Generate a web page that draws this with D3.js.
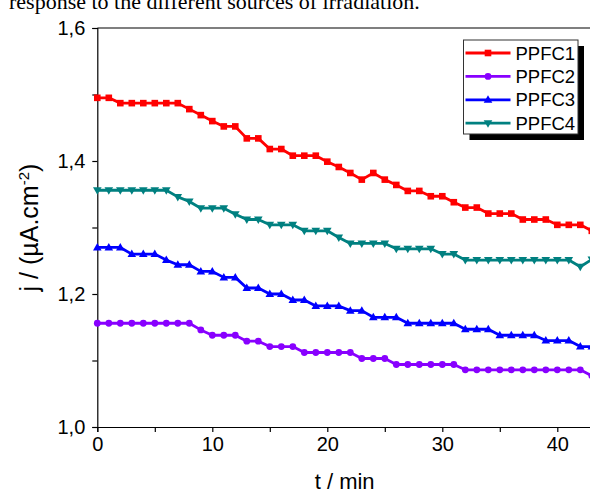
<!DOCTYPE html>
<html>
<head>
<meta charset="utf-8">
<script src="https://cdn.jsdelivr.net/npm/d3@7"></script>
<style>
  html, body { margin: 0; padding: 0; background: #fff; }
  svg { display: block; }
  text { font-family: "Liberation Sans", Arial, sans-serif; fill: #000; }
</style>
</head>
<body>
<script>
// ---- data ----
const times = d3.range(0, 44); // 0..43 min
const seriesNames = ["PPFC1", "PPFC2", "PPFC3", "PPFC4"];
const ppfc1 = [1.495,1.495,1.487,1.487,1.487,1.487,1.487,1.487,1.478,1.469,1.460,1.452,1.452,1.434,1.434,1.418,1.418,1.408,1.408,1.408,1.399,1.391,1.382,1.372,1.382,1.372,1.364,1.355,1.355,1.347,1.347,1.338,1.330,1.330,1.321,1.321,1.321,1.312,1.312,1.312,1.304,1.304,1.304,1.295];
const ppfc2 = [1.156,1.156,1.156,1.156,1.156,1.156,1.156,1.156,1.156,1.146,1.138,1.138,1.138,1.129,1.129,1.121,1.121,1.121,1.112,1.112,1.112,1.112,1.112,1.103,1.103,1.103,1.094,1.094,1.094,1.094,1.094,1.094,1.086,1.086,1.086,1.086,1.086,1.086,1.086,1.086,1.086,1.086,1.086,1.077];
const ppfc3 = [1.270,1.270,1.270,1.260,1.260,1.260,1.251,1.244,1.244,1.234,1.234,1.225,1.225,1.209,1.209,1.200,1.200,1.191,1.191,1.182,1.182,1.182,1.175,1.175,1.165,1.165,1.165,1.156,1.156,1.156,1.156,1.156,1.147,1.147,1.147,1.138,1.138,1.138,1.138,1.130,1.130,1.130,1.121,1.121];
const ppfc4 = [1.356,1.356,1.356,1.356,1.356,1.356,1.356,1.346,1.339,1.329,1.329,1.329,1.320,1.312,1.312,1.304,1.304,1.304,1.295,1.295,1.295,1.285,1.276,1.276,1.276,1.276,1.268,1.268,1.268,1.268,1.260,1.260,1.251,1.251,1.251,1.251,1.251,1.251,1.251,1.251,1.251,1.251,1.241,1.252];
const seriesValues = [ppfc1, ppfc2, ppfc3, ppfc4];
const seriesColors = ["#ff0000", "#8800ff", "#0000ff", "#008080"];
const seriesMarkers = ["square", "circle", "triangleUp", "triangleDown"];
const xMajorTicks = [0, 10, 20, 30, 40];
const xMinorTicks = [5, 15, 25, 35];
const yMajorTicks = [1.0, 1.2, 1.4, 1.6];
const yMinorTicks = [1.1, 1.3, 1.5];
const xTitle = "t / min";
const captionText = "response to the different sources of irradiation.";

// ---- layout ----
const W = 590, H = 496;
const FONT = "'Liberation Sans', Arial, sans-serif";
const svg = d3.select("body").append("svg").attr("width", W).attr("height", H);

const x = d3.scaleLinear().domain([0, 43]).range([97.3, 591.8]);
const y = d3.scaleLinear().domain([1.0, 1.6]).range([427, 28]);

// caption (cut off at top, as in the source page)
svg.append("text")
  .attr("x", 9).attr("y", 9)
  .style("font-family", "'Liberation Serif', 'Times New Roman', serif")
  .style("font-size", "22px")
  .text(captionText);

// top frame line
svg.append("line")
  .attr("x1", x(0)).attr("x2", W)
  .attr("y1", y(1.6)).attr("y2", y(1.6))
  .attr("stroke", "#000").attr("stroke-width", 1.2);

// axes
const fmt = d => d3.format(".1f")(d).replace(".", ",");
svg.append("g").attr("transform", `translate(${x(0)},0)`)
  .call(d3.axisLeft(y).tickValues(yMajorTicks).tickFormat(fmt).tickSize(5).tickPadding(7));
svg.append("g").attr("transform", `translate(${x(0)},0)`)
  .call(d3.axisLeft(y).tickValues(yMinorTicks).tickFormat("").tickSize(5))
  .select(".domain").remove();
svg.append("g").attr("transform", `translate(0,${y(1.0)})`)
  .call(d3.axisBottom(x).tickValues(xMajorTicks).tickFormat(d3.format("d")).tickSize(5).tickPadding(5));
svg.append("g").attr("transform", `translate(0,${y(1.0)})`)
  .call(d3.axisBottom(x).tickValues(xMinorTicks).tickFormat("").tickSize(5))
  .select(".domain").remove();

svg.selectAll(".domain").attr("stroke", "#000").attr("stroke-width", 1.2);
svg.selectAll(".tick line").attr("stroke", "#000").attr("stroke-width", 1.2);
svg.selectAll(".tick text").style("font-size", "20px").style("font-family", FONT).attr("fill", "#000");

// axis titles
svg.append("text")
  .attr("x", (x(0) + W) / 2 + 1).attr("y", 489)
  .attr("text-anchor", "middle")
  .style("font-family", FONT)
  .style("font-size", "22px")
  .text(xTitle);

const yt = svg.append("text")
  .attr("transform", `translate(38,${(y(1.0) + y(1.6)) / 2}) rotate(-90)`)
  .attr("text-anchor", "middle")
  .style("font-family", FONT)
  .style("font-size", "25px");
yt.append("tspan").text("j / (\u00b5A.cm");
yt.append("tspan").attr("dy", -9).style("font-size", "15px").text("-2");
yt.append("tspan").attr("dy", 9).text(")");

// marker drawing
function drawMarker(g, type, color) {
  if (type === "square") {
    g.append("rect").attr("x", -3.3).attr("y", -3.3).attr("width", 6.6).attr("height", 6.6).attr("fill", color);
  } else if (type === "circle") {
    g.append("circle").attr("r", 3.4).attr("fill", color);
  } else if (type === "triangleUp") {
    g.append("path").attr("d", "M0,-4.5L4.3,3L-4.3,3Z").attr("fill", color);
  } else {
    g.append("path").attr("d", "M0,4.5L4.3,-3L-4.3,-3Z").attr("fill", color);
  }
}

const plot = svg.append("g");
const line = d3.line().x((d, i) => x(times[i])).y(d => y(d));
seriesValues.forEach((vals, si) => {
  const c = seriesColors[si];
  plot.append("path").datum(vals)
    .attr("d", line)
    .attr("fill", "none").attr("stroke", c).attr("stroke-width", 2.8)
    .attr("stroke-linejoin", "round");
  vals.forEach((v, i) => {
    const g = plot.append("g").attr("transform", `translate(${x(times[i])},${y(v)})`);
    drawMarker(g, seriesMarkers[si], c);
  });
});

// legend
const lx = 463.5, ly = 40, lw = 114.5, lh = 94;
svg.append("rect").attr("x", lx + 6).attr("y", ly + 6).attr("width", lw).attr("height", lh).attr("fill", "#000");
svg.append("rect").attr("x", lx).attr("y", ly).attr("width", lw).attr("height", lh)
  .attr("fill", "#fff").attr("stroke", "#333").attr("stroke-width", 1);
seriesNames.forEach((name, i) => {
  const cy = ly + 13 + i * 23.4;
  svg.append("line").attr("x1", lx + 2).attr("x2", lx + 47).attr("y1", cy).attr("y2", cy)
    .attr("stroke", seriesColors[i]).attr("stroke-width", 2.8);
  const g = svg.append("g").attr("transform", `translate(${lx + 24.5},${cy})`);
  drawMarker(g, seriesMarkers[i], seriesColors[i]);
  svg.append("text").attr("x", lx + 52).attr("y", cy).attr("dy", "0.36em")
    .style("font-family", FONT)
    .style("font-size", "18.5px").text(name);
});
</script>
</body>
</html>
